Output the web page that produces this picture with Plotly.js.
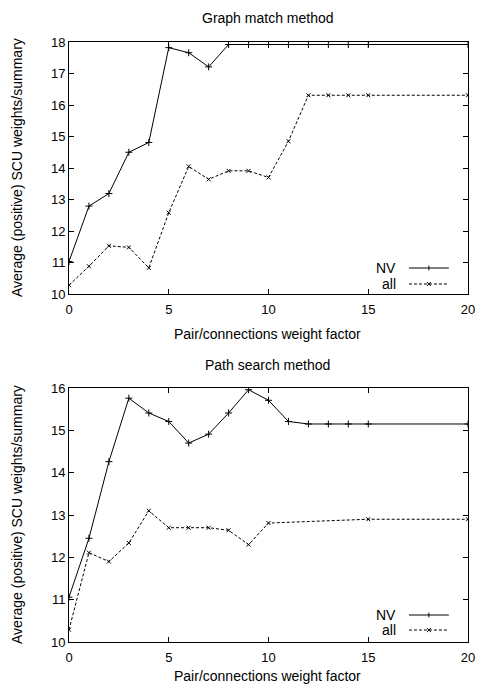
<!DOCTYPE html>
<html>
<head>
<meta charset="utf-8">
<script src="https://cdn.plot.ly/plotly-3.0.1.min.js"></script>
<style>html,body{margin:0;padding:0;background:#fff;}#chart{width:478px;height:685px;}</style>
</head>
<body>
<div id="chart"></div>
<script>
// ---- data ----
var graphX = [0,1,2,3,4,5,6,7,8,9,10,11,12,13,14,15,20];
var graphNV = [11.03,12.79,13.19,14.5,14.81,17.82,17.66,17.21,17.92,17.92,17.92,17.92,17.92,17.92,17.92,17.92,17.92];
var graphAll = [10.28,10.88,11.53,11.48,10.83,12.58,14.05,13.64,13.91,13.91,13.7,14.85,16.31,16.31,16.31,16.31,16.31];

var pathNVX = [0,1,2,3,4,5,6,7,8,9,10,11,12,13,14,15,20];
var pathNV = [11.06,12.45,14.26,15.76,15.41,15.21,14.7,14.91,15.41,15.96,15.71,15.21,15.15,15.15,15.15,15.15,15.15];
var pathAllX = [0,1,2,3,4,5,6,7,8,9,10,15,20];
var pathAll = [10.29,12.11,11.9,12.34,13.1,12.7,12.7,12.7,12.64,12.3,12.81,12.9,12.9];

var seriesNames = ["NV", "all"];
var titles = ["Graph match method", "Path search method"];
var xTitle = "Pair/connections weight factor";
var yTitle = "Average (positive) SCU weights/summary";
var xTicks = [0,5,10,15,20];

// ---- styles ----
var FONT = "Liberation Sans, Arial, Helvetica, sans-serif";
var nvStyle = {mode:"lines+markers", line:{color:"#000", width:1},
  marker:{symbol:"cross-thin-open", size:5, color:"#000", line:{color:"#000", width:1}}};
var allStyle = {mode:"lines+markers", line:{color:"#000", width:1, dash:"3px,2px"},
  marker:{symbol:"x-thin-open", size:4, color:"#000", line:{color:"#000", width:1}}};

function mk(x, y, style, xa, ya, name) {
  return Object.assign({x:x, y:y, xaxis:xa, yaxis:ya, name:name, type:"scatter", showlegend:false, cliponaxis:true}, JSON.parse(JSON.stringify(style)));
}

var traces = [
  mk(graphX, graphNV, nvStyle, "x", "y", seriesNames[0]),
  mk(graphX, graphAll, allStyle, "x", "y", seriesNames[1]),
  mk(pathNVX, pathNV, nvStyle, "x2", "y2", seriesNames[0]),
  mk(pathAllX, pathAll, allStyle, "x2", "y2", seriesNames[1])
];

function xax(anchor) {
  return {anchor:anchor, domain:[0,1], range:[0,20], tickvals:xTicks, ticks:"inside", ticklen:5,
    tickcolor:"#000", mirror:"ticks", showline:true, linecolor:"#000", linewidth:1,
    ticklabelstandoff:3,
    showgrid:false, zeroline:false, tickfont:{family:FONT, size:13, color:"#000"}};
}
function yax(anchor, dom, rng) {
  return {anchor:anchor, domain:dom, range:rng, dtick:1, ticks:"inside", ticklen:5,
    tickcolor:"#000", mirror:"ticks", showline:true, linecolor:"#000", linewidth:1,
    showgrid:false, zeroline:false, tickfont:{family:FONT, size:13, color:"#000"}};
}

var topDom = [0.58, 1.0];
var botDom = [0.0, 0.4233];

var ann = [];
function txt(t, x, y, opts) {
  ann.push(Object.assign({text:t, x:x, y:y, xref:"paper", yref:"paper", showarrow:false,
    font:{family:FONT, size:14, color:"#000"}, xanchor:"center", yanchor:"middle"}, opts||{}));
}
// titles
txt(titles[0], 0.4987, 1.04);
txt(titles[1], 0.4987, 0.4617);
// x axis titles
txt(xTitle, 0.4987, 0.5133);
txt(xTitle, 0.4987, -0.0567);
// y axis titles
txt(yTitle, -0.1303, 0.79, {textangle:-90});
txt(yTitle, -0.1303, 0.2117, {textangle:-90});

// manual legends (text left, sample right)
var shapes = [];
var legX = 0.8246, lx0 = 0.852, lx1 = 0.952, lm = 0.902;
function legend(yNV, yAll) {
  txt(seriesNames[0], legX, yNV, {xanchor:"right"});
  txt(seriesNames[1], legX, yAll, {xanchor:"right"});
  shapes.push({type:"line", xref:"paper", yref:"paper", x0:lx0, x1:lx1, y0:yNV, y1:yNV, line:{color:"#000", width:1}});
  shapes.push({type:"line", xref:"paper", yref:"paper", x0:lm, x1:lm, y0:yNV-0.004, y1:yNV+0.004, line:{color:"#000", width:1}});
  shapes.push({type:"line", xref:"paper", yref:"paper", x0:lx0, x1:lx1, y0:yAll, y1:yAll, line:{color:"#000", width:1, dash:"3px,2px"}});
  shapes.push({type:"line", xref:"paper", yref:"paper", x0:lm-0.005, x1:lm+0.005, y0:yAll-0.0033, y1:yAll+0.0033, line:{color:"#000", width:1}});
  shapes.push({type:"line", xref:"paper", yref:"paper", x0:lm-0.005, x1:lm+0.005, y0:yAll+0.0033, y1:yAll-0.0033, line:{color:"#000", width:1}});
}
legend(0.6233, 0.5967);
legend(0.045, 0.02);

var layout = {
  width:478, height:685,
  margin:{l:69, r:10, t:42, b:43},
  paper_bgcolor:"#fff", plot_bgcolor:"#fff",
  font:{family:FONT, color:"#000"},
  showlegend:false,
  xaxis: xax("y"),
  yaxis: yax("x", topDom, [10,18]),
  xaxis2: xax("y2"),
  yaxis2: yax("x2", botDom, [10,16]),
  annotations: ann,
  shapes: shapes
};

Plotly.newPlot("chart", traces, layout, {staticPlot:true, displayModeBar:false});
</script>
</body>
</html>
